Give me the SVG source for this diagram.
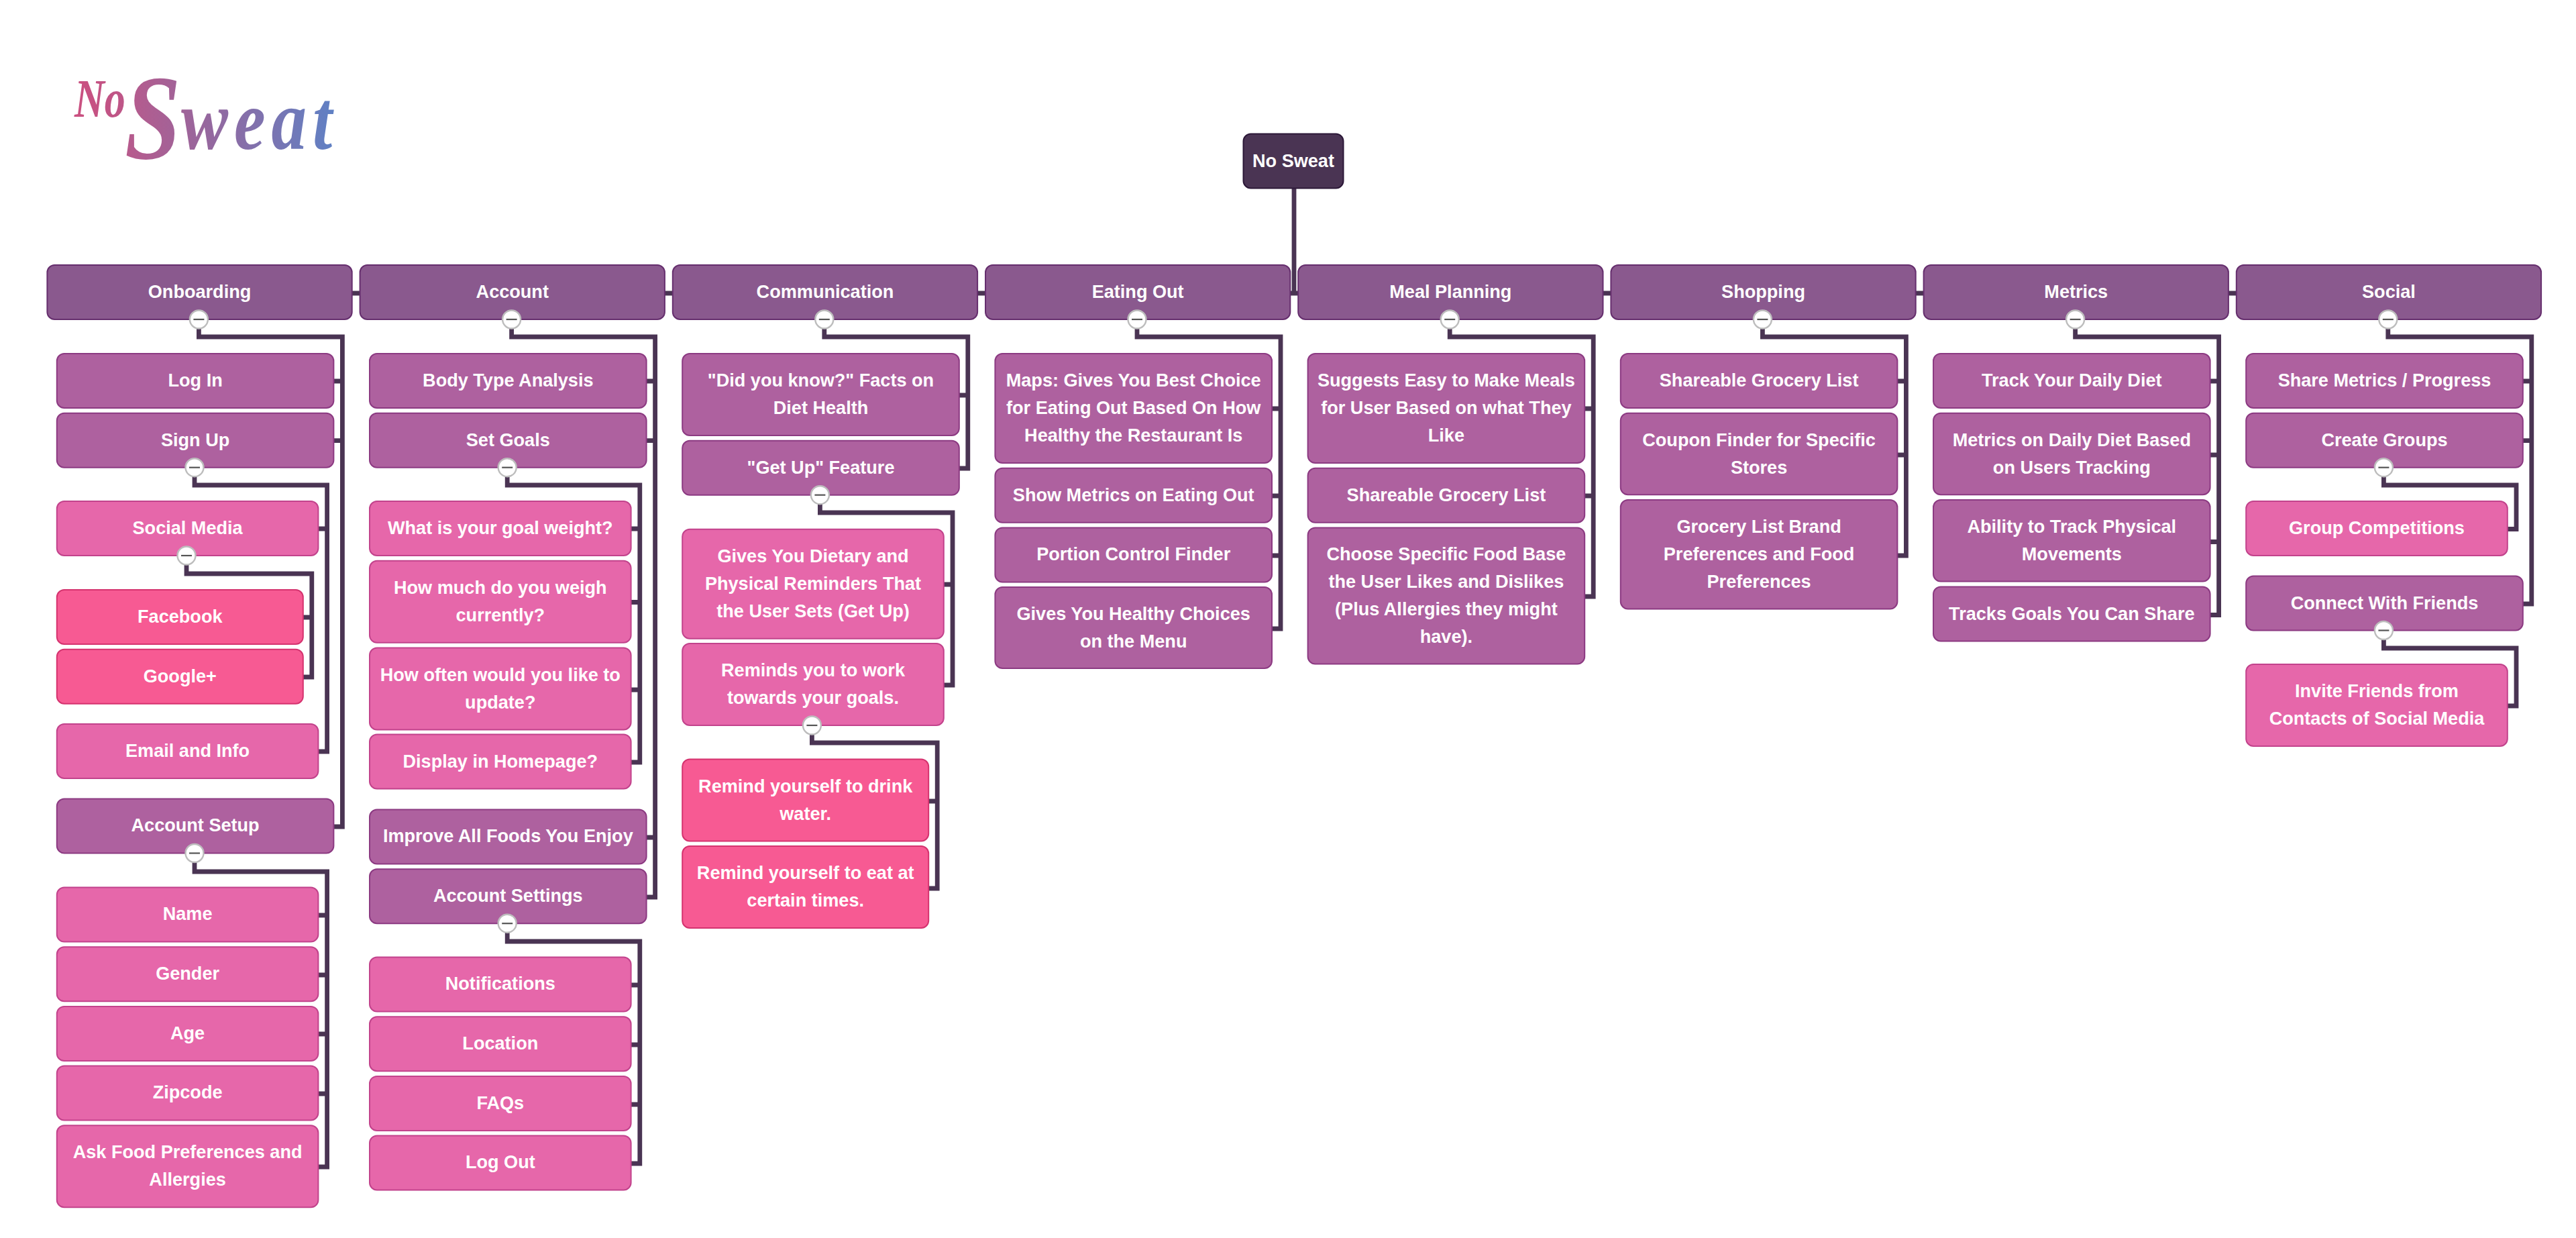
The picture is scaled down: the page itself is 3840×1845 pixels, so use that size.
<svg xmlns="http://www.w3.org/2000/svg" width="3840" height="1845" viewBox="0 0 3840 1845">
<style>
text{font-family:"Liberation Sans",Arial,sans-serif;font-weight:700;font-size:27.1px;fill:#fff;text-anchor:middle}
rect{stroke-width:2}
.l0 rect{fill:#4a3453;stroke:#2c1838}
.l1 rect{fill:#8a598e;stroke:#662f6e}
.l2 rect{fill:#ae619f;stroke:#8c3a82}
.l3 rect{fill:#e667aa;stroke:#c2438c}
.l4 rect{fill:#f75a93;stroke:#d5336f}
#connectors path{fill:none;stroke:#4a3453;stroke-width:6.8}
.logo{font-family:"Liberation Serif",serif;font-style:italic;font-weight:700;text-anchor:start}
</style>
<defs>
<linearGradient id="logoNo" gradientUnits="userSpaceOnUse" x1="0" y1="0" x2="300" y2="0">
<stop offset="0" stop-color="#cb5080"/><stop offset="1" stop-color="#94689f"/>
</linearGradient>
<linearGradient id="logoSweat" gradientUnits="userSpaceOnUse" x1="0" y1="0" x2="321" y2="0">
<stop offset="0" stop-color="#b85a8c"/><stop offset="0.4" stop-color="#94689f"/><stop offset="1" stop-color="#5d82c6"/>
</linearGradient>
<g id="toggle"><circle r="13.5" fill="#fff" stroke="#bdbdbd" stroke-width="2.4"/><path d="M-8 0H8" stroke="#555" stroke-width="2.2"/></g>
</defs>
<rect width="3840" height="1845" fill="#fff" stroke="none"/>
<g id="logo">
<text class="logo" transform="translate(111 174) scale(1 1.3)" x="0" y="0" style="font-size:62px;fill:url(#logoNo)">No</text>
<text class="logo" transform="translate(186 236) scale(1 1.2)" x="0" y="0" style="font-size:150px;fill:url(#logoSweat)">S<tspan style="font-size:105px;letter-spacing:9px" x="84" y="-12">weat</tspan></text>
</g>
<g id="connectors">
<path d="M1929 281V437"/>
<path d="M297 437H3561"/>
<path d="M296.4 476V502H510.4V1232H497M510.4 568H497M510.4 656.6H497"/>
<path d="M290 697V723H487.6V1120H474.6M487.6 788H474.6"/>
<path d="M278 828V855H464.8V1009H451.8M464.8 920H451.8"/>
<path d="M290 1272V1299H487.6V1739H474.6M487.6 1364H474.6M487.6 1453H474.6M487.6 1541H474.6M487.6 1630H474.6"/>
<path d="M762.6 476V502H976.6V1337H963.6M976.6 568H963.6M976.6 656.6H963.6M976.6 1248H963.6"/>
<path d="M756.2 697V723H953.8V1136H940.6M953.8 788H940.6M953.8 897.5H940.6M953.8 1028H940.6"/>
<path d="M756.2 1377V1403H953.8V1734H940.6M953.8 1468H940.6M953.8 1557H940.6M953.8 1646H940.6"/>
<path d="M1228.8 476V502H1442.8V698H1429.8M1442.8 589H1429.8"/>
<path d="M1222.4 738V764H1420V1021H1406.8M1420 871H1406.8"/>
<path d="M1210.4 1081V1107H1397.2V1324H1384.2M1397.2 1194H1384.2"/>
<path d="M1695 476V502H1909V937H1896M1909 609H1896M1909 739H1896M1909 828H1896"/>
<path d="M2161.2 476V502H2375.2V889H2362.2M2375.2 609H2362.2M2375.2 739H2362.2"/>
<path d="M2627.4 476V502H2841.4V828H2828.4M2841.4 568H2828.4M2841.4 678H2828.4"/>
<path d="M3093.6 476V502H3307.6V916.5H3294.6M3307.6 568H3294.6M3307.6 678H3294.6M3307.6 807.5H3294.6"/>
<path d="M3559.8 476V502H3773.8V900H3760.8M3773.8 568H3760.8M3773.8 656.6H3760.8"/>
<path d="M3553.4 697V723H3751V788.5H3737.8"/>
<path d="M3553.4 940V966H3751V1052H3737.8"/>
</g>
<g id="nodes">
<g id="root" class="l0"><rect x="1853.5" y="199.5" width="149" height="81" rx="11"/><text x="1928" y="248.5">No Sweat</text></g>

<g id="onboarding" class="l1"><rect x="70.4" y="395" width="454.3" height="81" rx="11"/><text x="297.55" y="444">Onboarding</text><use href="#toggle" x="296.4" y="476"/></g>
<g id="account" class="l1"><rect x="536.6" y="395" width="454.3" height="81" rx="11"/><text x="763.75" y="444">Account</text><use href="#toggle" x="762.6" y="476"/></g>
<g id="communication" class="l1"><rect x="1002.8" y="395" width="454.3" height="81" rx="11"/><text x="1229.95" y="444">Communication</text><use href="#toggle" x="1228.8" y="476"/></g>
<g id="eating-out" class="l1"><rect x="1469" y="395" width="454.3" height="81" rx="11"/><text x="1696.15" y="444">Eating Out</text><use href="#toggle" x="1695" y="476"/></g>
<g id="meal-planning" class="l1"><rect x="1935.2" y="395" width="454.3" height="81" rx="11"/><text x="2162.35" y="444">Meal Planning</text><use href="#toggle" x="2161.2" y="476"/></g>
<g id="shopping" class="l1"><rect x="2401.4" y="395" width="454.3" height="81" rx="11"/><text x="2628.55" y="444">Shopping</text><use href="#toggle" x="2627.4" y="476"/></g>
<g id="metrics" class="l1"><rect x="2867.6" y="395" width="454.3" height="81" rx="11"/><text x="3094.75" y="444">Metrics</text><use href="#toggle" x="3093.6" y="476"/></g>
<g id="social" class="l1"><rect x="3333.8" y="395" width="454.3" height="81" rx="11"/><text x="3560.95" y="444">Social</text><use href="#toggle" x="3559.8" y="476"/></g>

<g id="log-in" class="l2"><rect x="84.8" y="527" width="412.6" height="81" rx="11"/><text x="291.1" y="576">Log In</text></g>
<g id="sign-up" class="l2"><rect x="84.8" y="615.7" width="412.6" height="81" rx="11"/><text x="291.1" y="664.7">Sign Up</text><use href="#toggle" x="290" y="696.7"/></g>
<g id="social-media" class="l3"><rect x="84.8" y="747" width="389.6" height="81" rx="11"/><text x="279.6" y="796">Social Media</text><use href="#toggle" x="278" y="828"/></g>
<g id="facebook" class="l4"><rect x="84.8" y="879" width="367" height="81" rx="11"/><text x="268.3" y="928">Facebook</text></g>
<g id="google" class="l4"><rect x="84.8" y="967.7" width="367" height="81" rx="11"/><text x="268.3" y="1016.7">Google+</text></g>
<g id="email-info" class="l3"><rect x="84.8" y="1079" width="389.6" height="81" rx="11"/><text x="279.6" y="1127.5">Email and Info</text></g>
<g id="account-setup" class="l2"><rect x="84.8" y="1190.5" width="412.6" height="81" rx="11"/><text x="291.1" y="1239">Account Setup</text><use href="#toggle" x="290" y="1271.5"/></g>
<g id="name" class="l3"><rect x="84.8" y="1322.5" width="389.6" height="81" rx="11"/><text x="279.6" y="1371">Name</text></g>
<g id="gender" class="l3"><rect x="84.8" y="1411.2" width="389.6" height="81" rx="11"/><text x="279.6" y="1460">Gender</text></g>
<g id="age" class="l3"><rect x="84.8" y="1499.9" width="389.6" height="81" rx="11"/><text x="279.6" y="1548.7">Age</text></g>
<g id="zipcode" class="l3"><rect x="84.8" y="1588.5" width="389.6" height="81" rx="11"/><text x="279.6" y="1637.3">Zipcode</text></g>
<g id="ask-food" class="l3"><rect x="84.8" y="1677.2" width="389.6" height="122" rx="11"/><text x="279.6" y="1726">Ask Food Preferences and</text><text x="279.6" y="1767">Allergies</text></g>

<g id="body-type" class="l2"><rect x="551" y="527" width="412.6" height="81" rx="11"/><text x="757.3" y="576">Body Type Analysis</text></g>
<g id="set-goals" class="l2"><rect x="551" y="615.7" width="412.6" height="81" rx="11"/><text x="757.3" y="664.7">Set Goals</text><use href="#toggle" x="756.2" y="696.7"/></g>
<g id="goal-weight" class="l3"><rect x="551" y="747" width="389.6" height="81" rx="11"/><text x="745.8" y="796">What is your goal weight?</text></g>
<g id="weigh-currently" class="l3"><rect x="551" y="835.7" width="389.6" height="122" rx="11"/><text x="745.8" y="884.7">How much do you weigh</text><text x="745.8" y="925.7">currently?</text></g>
<g id="how-often" class="l3"><rect x="551" y="965.5" width="389.6" height="122" rx="11"/><text x="745.8" y="1014.5">How often would you like to</text><text x="745.8" y="1055.5">update?</text></g>
<g id="display-homepage" class="l3"><rect x="551" y="1094.5" width="389.6" height="81" rx="11"/><text x="745.8" y="1143.5">Display in Homepage?</text></g>
<g id="improve-foods" class="l2"><rect x="551" y="1206.5" width="412.6" height="81" rx="11"/><text x="757.3" y="1255.3">Improve All Foods You Enjoy</text></g>
<g id="account-settings" class="l2"><rect x="551" y="1295.2" width="412.6" height="81" rx="11"/><text x="757.3" y="1344">Account Settings</text><use href="#toggle" x="756.2" y="1376.2"/></g>
<g id="notifications" class="l3"><rect x="551" y="1426.5" width="389.6" height="81" rx="11"/><text x="745.8" y="1475.3">Notifications</text></g>
<g id="location" class="l3"><rect x="551" y="1515.2" width="389.6" height="81" rx="11"/><text x="745.8" y="1564">Location</text></g>
<g id="faqs" class="l3"><rect x="551" y="1603.9" width="389.6" height="81" rx="11"/><text x="745.8" y="1652.7">FAQs</text></g>
<g id="log-out" class="l3"><rect x="551" y="1692.5" width="389.6" height="81" rx="11"/><text x="745.8" y="1741.3">Log Out</text></g>

<g id="did-you-know" class="l2"><rect x="1017.2" y="527" width="412.6" height="122" rx="11"/><text x="1223.5" y="576">"Did you know?" Facts on</text><text x="1223.5" y="617">Diet Health</text></g>
<g id="get-up" class="l2"><rect x="1017.2" y="656.7" width="412.6" height="81" rx="11"/><text x="1223.5" y="705.7">"Get Up" Feature</text><use href="#toggle" x="1222.4" y="737.7"/></g>
<g id="gives-dietary" class="l3"><rect x="1017.2" y="788.7" width="389.6" height="163" rx="11"/><text x="1212" y="837.7">Gives You Dietary and</text><text x="1212" y="878.7">Physical Reminders That</text><text x="1212" y="919.7">the User Sets (Get Up)</text></g>
<g id="reminds-goals" class="l3"><rect x="1017.2" y="959" width="389.6" height="122" rx="11"/><text x="1212" y="1008">Reminds you to work</text><text x="1212" y="1049">towards your goals.</text><use href="#toggle" x="1210.4" y="1081"/></g>
<g id="drink-water" class="l4"><rect x="1017.2" y="1131.5" width="367" height="122" rx="11"/><text x="1200.7" y="1180.5">Remind yourself to drink</text><text x="1200.7" y="1221.5">water.</text></g>
<g id="eat-times" class="l4"><rect x="1017.2" y="1261" width="367" height="122" rx="11"/><text x="1200.7" y="1310">Remind yourself to eat at</text><text x="1200.7" y="1351">certain times.</text></g>

<g id="maps" class="l2"><rect x="1483.4" y="527" width="412.6" height="163" rx="11"/><text x="1689.7" y="576">Maps: Gives You Best Choice</text><text x="1689.7" y="617">for Eating Out Based On How</text><text x="1689.7" y="658">Healthy the Restaurant Is</text></g>
<g id="show-metrics" class="l2"><rect x="1483.4" y="697.7" width="412.6" height="81" rx="11"/><text x="1689.7" y="746.7">Show Metrics on Eating Out</text></g>
<g id="portion-control" class="l2"><rect x="1483.4" y="786.4" width="412.6" height="81" rx="11"/><text x="1689.7" y="835.4">Portion Control Finder</text></g>
<g id="healthy-choices" class="l2"><rect x="1483.4" y="875" width="412.6" height="121" rx="11"/><text x="1689.7" y="924">Gives You Healthy Choices</text><text x="1689.7" y="965">on the Menu</text></g>

<g id="suggests-meals" class="l2"><rect x="1949.6" y="527" width="412.6" height="163" rx="11"/><text x="2155.9" y="576">Suggests Easy to Make Meals</text><text x="2155.9" y="617">for User Based on what They</text><text x="2155.9" y="658">Like</text></g>
<g id="shareable-list-meal" class="l2"><rect x="1949.6" y="697.7" width="412.6" height="81" rx="11"/><text x="2155.9" y="746.7">Shareable Grocery List</text></g>
<g id="choose-food" class="l2"><rect x="1949.6" y="786.4" width="412.6" height="203" rx="11"/><text x="2155.9" y="835.4">Choose Specific Food Base</text><text x="2155.9" y="876.4">the User Likes and Dislikes</text><text x="2155.9" y="917.4">(Plus Allergies they might</text><text x="2155.9" y="958.4">have).</text></g>

<g id="shareable-list-shop" class="l2"><rect x="2415.8" y="527" width="412.6" height="81" rx="11"/><text x="2622.1" y="576">Shareable Grocery List</text></g>
<g id="coupon-finder" class="l2"><rect x="2415.8" y="615.7" width="412.6" height="121.5" rx="11"/><text x="2622.1" y="664.7">Coupon Finder for Specific</text><text x="2622.1" y="705.7">Stores</text></g>
<g id="brand-preferences" class="l2"><rect x="2415.8" y="745" width="412.6" height="162.5" rx="11"/><text x="2622.1" y="794">Grocery List Brand</text><text x="2622.1" y="835">Preferences and Food</text><text x="2622.1" y="876">Preferences</text></g>

<g id="track-diet" class="l2"><rect x="2882" y="527" width="412.6" height="81" rx="11"/><text x="3088.3" y="576">Track Your Daily Diet</text></g>
<g id="metrics-diet" class="l2"><rect x="2882" y="615.7" width="412.6" height="121.5" rx="11"/><text x="3088.3" y="664.7">Metrics on Daily Diet Based</text><text x="3088.3" y="705.7">on Users Tracking</text></g>
<g id="track-movements" class="l2"><rect x="2882" y="745" width="412.6" height="121.5" rx="11"/><text x="3088.3" y="794">Ability to Track Physical</text><text x="3088.3" y="835">Movements</text></g>
<g id="tracks-goals" class="l2"><rect x="2882" y="874.5" width="412.6" height="81" rx="11"/><text x="3088.3" y="923.5">Tracks Goals You Can Share</text></g>

<g id="share-metrics" class="l2"><rect x="3348.2" y="527" width="412.6" height="81" rx="11"/><text x="3554.5" y="576">Share Metrics / Progress</text></g>
<g id="create-groups" class="l2"><rect x="3348.2" y="615.7" width="412.6" height="81" rx="11"/><text x="3554.5" y="664.7">Create Groups</text><use href="#toggle" x="3553.4" y="696.7"/></g>
<g id="group-competitions" class="l3"><rect x="3348.2" y="747" width="389.6" height="81" rx="11"/><text x="3543" y="796">Group Competitions</text></g>
<g id="connect-friends" class="l2"><rect x="3348.2" y="858.5" width="412.6" height="81" rx="11"/><text x="3554.5" y="907.5">Connect With Friends</text><use href="#toggle" x="3553.4" y="939.5"/></g>
<g id="invite-friends" class="l3"><rect x="3348.2" y="990" width="389.6" height="122" rx="11"/><text x="3543" y="1039">Invite Friends from</text><text x="3543" y="1080">Contacts of Social Media</text></g>
</g>
</svg>
